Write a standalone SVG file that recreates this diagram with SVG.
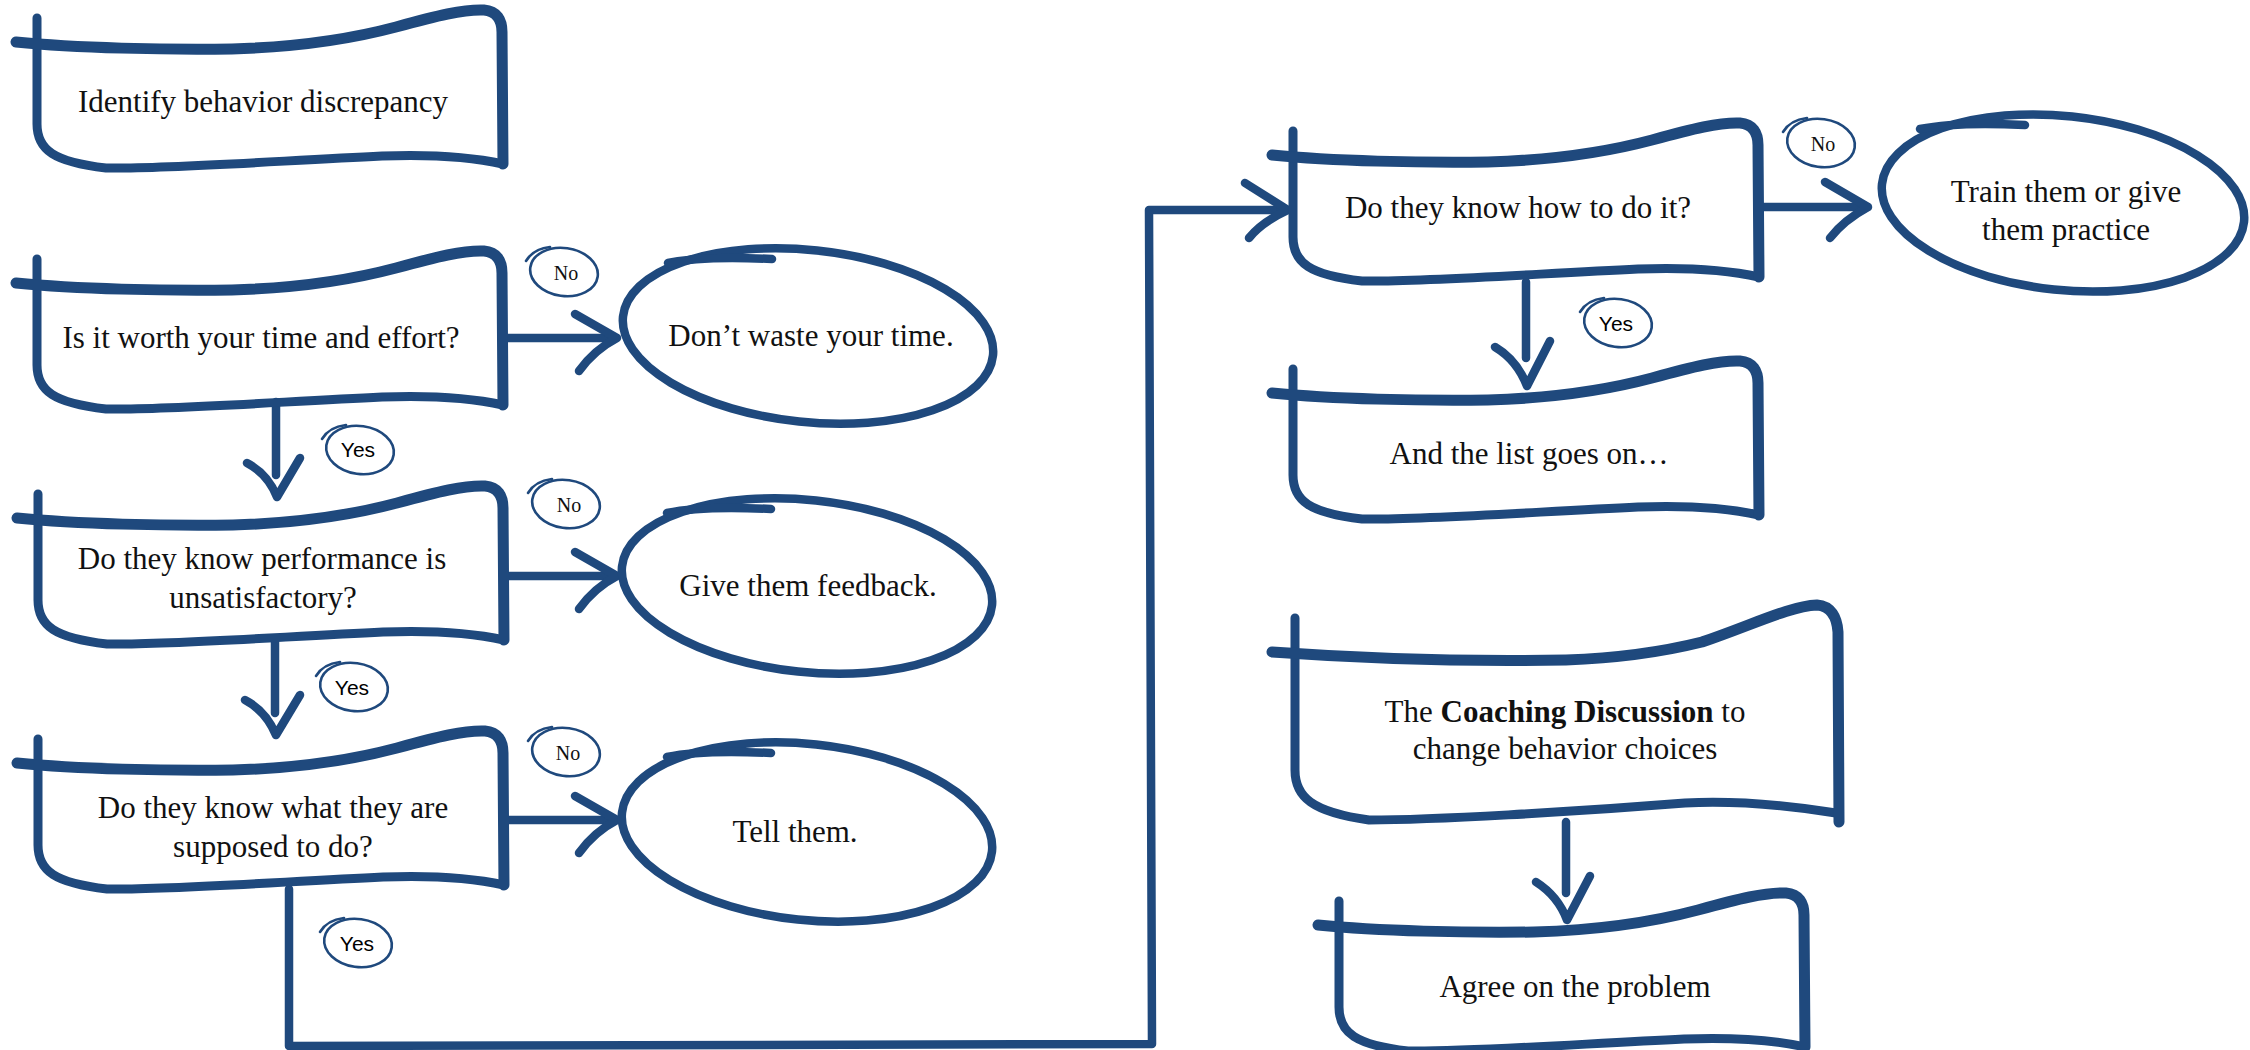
<svg xmlns="http://www.w3.org/2000/svg" xmlns:xlink="http://www.w3.org/1999/xlink" width="2250" height="1050" viewBox="0 0 2250 1050">
  <style>
    .ink { fill: none; stroke: #1F497D; stroke-linecap: round; stroke-linejoin: round; }
    .top { stroke-width: 11; }
    .side { stroke-width: 9; }
    .oval { stroke-width: 8.5; }
    .conn { stroke-width: 8.5; }
    .tag { fill: none; stroke: #1F497D; stroke-width: 2.6; stroke-linecap: round; }
    .t { font-family: "Liberation Serif", "Times New Roman", serif; font-size: 31px; fill: #111; text-anchor: middle; }
    .b { font-weight: bold; }
    .yes { font-family: "Liberation Sans", Arial, sans-serif; font-size: 21px; fill: #000; text-anchor: middle; }
    .no { font-family: "Liberation Serif", "Times New Roman", serif; font-size: 20px; fill: #111; text-anchor: middle; }
  </style>
  <defs>
    <!-- hand-drawn flag box, origin at the left tip of the top stroke -->
    <g id="box">
      <path class="ink side" d="M21,-24 L21,82 C21,108 38,120 90,126 C150,127 260,119 366,114 C420,112 460,116 487,122"/>
      <path class="ink top" d="M0,0 C60,6 150,8 216,7 C285,5 335,-3 380,-15 C420,-26 448,-33 468,-32 C481,-31 486,-22 486,-10 L487,122"/>
    </g>
    <!-- small circled tag outline centred on 0,0 -->
    <g id="tag">
      <ellipse class="tag" cx="0" cy="0" rx="34" ry="24" transform="rotate(8)"/>
      <path class="tag" d="M-38,-11 Q-31,-23 -14,-25"/>
    </g>
  </defs>

  <rect width="2250" height="1050" fill="#fff"/>

  <!-- connectors -->
  <g id="connectors">
    <!-- worth it? -> no -->
    <path class="ink conn" d="M506,338 L615,338"/>
    <path class="ink conn" d="M575,314 L617,338 Q594,350 579,371"/>
    <!-- performance known? -> no -->
    <path class="ink conn" d="M506,576 L615,576"/>
    <path class="ink conn" d="M575,552 L617,576 Q594,588 579,609"/>
    <!-- what to do known? -> no -->
    <path class="ink conn" d="M506,820 L615,820"/>
    <path class="ink conn" d="M575,796 L617,820 Q594,832 579,853"/>
    <!-- yes, downward steps on the left -->
    <path class="ink conn" d="M276,402 L276,475"/>
    <path class="ink conn" d="M247,463 Q268,474 277,497 L300,458"/>
    <path class="ink conn" d="M275,642 L275,713"/>
    <path class="ink conn" d="M245,700 Q266,711 276,735 L300,695"/>
    <!-- long run to the right column -->
    <path class="ink conn" d="M289,889 L289,1046 L1152,1044 L1149,210 L1286,210"/>
    <path class="ink conn" d="M1245,183 L1288,210 Q1262,222 1249,238"/>
    <!-- know how? -> no -->
    <path class="ink conn" d="M1762,207 L1864,207"/>
    <path class="ink conn" d="M1825,182 L1868,207 Q1844,220 1830,238"/>
    <!-- know how? -> yes -->
    <path class="ink conn" d="M1526,282 L1526,358"/>
    <path class="ink conn" d="M1495,347 Q1517,360 1527,386 L1550,341"/>
    <!-- coaching -> agree -->
    <path class="ink conn" d="M1566,822 L1566,893"/>
    <path class="ink conn" d="M1536,882 Q1558,896 1567,920 L1590,876"/>
  </g>

  <!-- tags -->
  <g id="tag-no-1"><use xlink:href="#tag" x="564" y="272"/><text class="no" x="566" y="280">No</text></g>
  <g id="tag-no-2"><use xlink:href="#tag" x="566" y="504"/><text class="no" x="569" y="512">No</text></g>
  <g id="tag-no-3"><use xlink:href="#tag" x="566" y="752"/><text class="no" x="568" y="760">No</text></g>
  <g id="tag-no-4"><use xlink:href="#tag" x="1821" y="143"/><text class="no" x="1823" y="151">No</text></g>
  <g id="tag-yes-1"><use xlink:href="#tag" x="360" y="450"/><text class="yes" x="358" y="457">Yes</text></g>
  <g id="tag-yes-2"><use xlink:href="#tag" x="354" y="687"/><text class="yes" x="352" y="695">Yes</text></g>
  <g id="tag-yes-3"><use xlink:href="#tag" x="358" y="943"/><text class="yes" x="357" y="951">Yes</text></g>
  <g id="tag-yes-4"><use xlink:href="#tag" x="1618" y="323"/><text class="yes" x="1616" y="331">Yes</text></g>

  <!-- left column -->
  <g id="identify">
    <use xlink:href="#box" x="16" y="42"/>
    <text class="t" x="263" y="112">Identify behavior discrepancy</text>
  </g>
  <g id="worth-it">
    <use xlink:href="#box" x="16" y="283"/>
    <text class="t" x="261" y="348">Is it worth your time and effort?</text>
  </g>
  <g id="know-performance">
    <use xlink:href="#box" x="17" y="518"/>
    <text class="t" x="262" y="569">Do they know performance is</text>
    <text class="t" x="263" y="608">unsatisfactory?</text>
  </g>
  <g id="know-what">
    <use xlink:href="#box" x="17" y="763"/>
    <text class="t" x="273" y="818">Do they know what they are</text>
    <text class="t" x="273" y="857">supposed to do?</text>
  </g>

  <!-- outcomes -->
  <g id="dont-waste">
    <ellipse class="ink oval" cx="808" cy="336" rx="186" ry="86" transform="rotate(6 808 336)"/>
    <path class="ink oval" d="M772,259 C730,257 692,258 668,263"/>
    <text class="t" x="811" y="346">Don’t waste your time.</text>
  </g>
  <g id="give-feedback">
    <ellipse class="ink oval" cx="807" cy="586" rx="186" ry="86" transform="rotate(6 807 586)"/>
    <path class="ink oval" d="M771,509 C729,507 691,508 667,513"/>
    <text class="t" x="808" y="596">Give them feedback.</text>
  </g>
  <g id="tell-them">
    <ellipse class="ink oval" cx="807" cy="832" rx="186" ry="88" transform="rotate(6 807 832)"/>
    <path class="ink oval" d="M771,753 C729,751 691,752 667,757"/>
    <text class="t" x="795" y="842">Tell them.</text>
  </g>

  <!-- right column -->
  <g id="know-how">
    <use xlink:href="#box" x="1272" y="155"/>
    <text class="t" x="1518" y="218">Do they know how to do it?</text>
  </g>
  <g id="train">
    <ellipse class="ink oval" cx="2063" cy="203" rx="182" ry="87" transform="rotate(6 2063 203)"/>
    <path class="ink oval" d="M2025,125 C1985,123 1945,124 1920,129"/>
    <text class="t" x="2066" y="202">Train them or give</text>
    <text class="t" x="2066" y="240">them practice</text>
  </g>
  <g id="list-goes-on">
    <use xlink:href="#box" x="1272" y="393"/>
    <text class="t" x="1529" y="464">And the list goes on…</text>
  </g>
  <g id="coaching">
    <g transform="translate(1272,652)">
      <path class="ink side" d="M23,-34 L23,118 C23,145 40,160 97,168 C160,168 300,160 413,151 C470,148 520,154 564,161"/>
      <path class="ink top" d="M0,0 C70,5 180,10 294,8 C350,6 390,0 430,-10 C480,-27 518,-46 545,-47 C559,-46 565,-35 566,-20 L567,170"/>
    </g>
    <text class="t" x="1565" y="722">The <tspan class="b">Coaching Discussion</tspan> to</text>
    <text class="t" x="1565" y="759">change behavior choices</text>
  </g>
  <g id="agree">
    <use xlink:href="#box" x="1318" y="925"/>
    <text class="t" x="1575" y="997">Agree on the problem</text>
  </g>
</svg>
